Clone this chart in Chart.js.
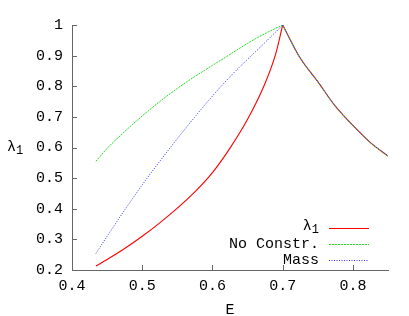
<!DOCTYPE html>
<html>
<head>
<script src="https://cdn.jsdelivr.net/npm/chart.js@4.4.0/dist/chart.umd.min.js"></script>
<style>
	body { margin:0; background:#fff; }
</style>
</head>
<body>
<canvas id="lambdaChart" width="409" height="316"></canvas>

<script>
// values: rising branch (three curves) and falling branch (shared by all)
var energyLeft   = [0.434, 0.45, 0.475, 0.5, 0.525, 0.55, 0.575, 0.6, 0.625, 0.65, 0.675, 0.69, 0.7];
var lambda1Left  = [0.213, 0.234, 0.270, 0.310, 0.354, 0.402, 0.455, 0.518, 0.598, 0.692, 0.810, 0.905, 1.0];
var noConstrLeft = [0.555, 0.597, 0.652, 0.703, 0.750, 0.793, 0.832, 0.868, 0.904, 0.940, 0.972, 0.989, 1.0];
var massLeft     = [0.254, 0.310, 0.396, 0.478, 0.555, 0.629, 0.700, 0.768, 0.831, 0.888, 0.943, 0.977, 1.0];
var energyRight  = [0.7, 0.725, 0.75, 0.775, 0.8, 0.825, 0.85];
var sharedRight  = [1.0, 0.892, 0.815, 0.735, 0.672, 0.616, 0.572];
var seriesLabels = ['λ₁', 'No Constr.', 'Mass'];
var xTicks = [0.4, 0.5, 0.6, 0.7, 0.8];
var yTicks = [0.2, 0.3, 0.4, 0.5, 0.6, 0.7, 0.8, 0.9, 1];

var monoFont = 'Liberation Mono';
var styles = [
	{color:'#ff0000', dash:[], width:1.1, order:3},
	{color:'#22dd22', dash:[2,1], width:1, order:2},
	{color:'#3333ff', dash:[1,1.5], width:1, order:1}
];

function pts(xs, ys){
	return xs.map(function(e, i){ return {x:e, y:ys[i]}; });
}

function branch(idx, xs, ys, key){
	return {
		label:seriesLabels[idx], data:pts(xs, ys), key:key,
		borderColor:styles[idx].color, borderDash:styles[idx].dash, order:styles[idx].order,
		borderWidth:styles[idx].width, pointRadius:0, cubicInterpolationMode:'monotone'
	};
}

// text with a gnuplot-like subscript for '₁'; x is the right edge when alignRight
function drawLabel(ctx, text, x, y, alignRight){
	var main = '15px "' + monoFont + '"', sub = '12px "' + monoFont + '"';
	var parts = text.split('₁');
	ctx.textAlign = 'left';
	ctx.font = main;
	var w0 = ctx.measureText(parts[0]).width;
	var w1 = 0;
	if (parts.length > 1) { ctx.font = sub; w1 = ctx.measureText('1').width; }
	var start = alignRight ? x - w0 - w1 : x;
	ctx.font = main;
	ctx.fillText(parts[0], start, y);
	if (parts.length > 1) {
		ctx.font = sub;
		ctx.fillText('1', start + w0, y + 4);
	}
}

// gnuplot style: ticks inside, axis titles, key in the lower right
var gnuplotBits = {
	id:'gnuplotBits',
	afterDraw: function(chart){
		var ctx = chart.ctx;
		var xs = chart.scales.x, ys = chart.scales.y;
		var area = chart.chartArea;
		ctx.save();
		ctx.strokeStyle = '#666';
		ctx.lineWidth = 1;
		xTicks.forEach(function(v){
			var px = Math.round(xs.getPixelForValue(v)) + 0.5;
			ctx.beginPath(); ctx.moveTo(px, area.bottom); ctx.lineTo(px, area.bottom - 5); ctx.stroke();
		});
		yTicks.forEach(function(v){
			var py = Math.round(ys.getPixelForValue(v)) + 0.5;
			ctx.beginPath(); ctx.moveTo(area.left, py); ctx.lineTo(area.left + 5, py); ctx.stroke();
		});

		ctx.fillStyle = '#000';
		ctx.font = '15px "' + monoFont + '"';
		ctx.textBaseline = 'middle';
		ctx.textAlign = 'center';
		ctx.fillText('E', (area.left + area.right) / 2, 310);
		drawLabel(ctx, 'λ₁', 7, 147, false);

		// key
		var rowY = [228, 244, 260];
		chart.data.datasets.forEach(function(ds, i){
			if (ds.key !== true) return;
			var r = seriesLabels.indexOf(ds.label);
			ctx.fillStyle = '#000';
			drawLabel(ctx, ds.label, 319, r === 0 ? rowY[r] - 2 : rowY[r], true);
			ctx.strokeStyle = ds.borderColor;
			ctx.lineWidth = ds.borderWidth;
			ctx.setLineDash(ds.borderDash || []);
			ctx.beginPath();
			ctx.moveTo(329, rowY[r] + 0.5);
			ctx.lineTo(369, rowY[r] + 0.5);
			ctx.stroke();
			ctx.setLineDash([]);
		});
		ctx.restore();
	}
};

new Chart(document.getElementById('lambdaChart'), {
	type:'line',
	data:{
		datasets:[
			branch(0, energyLeft, lambda1Left, true),
			branch(1, energyLeft, noConstrLeft, true),
			branch(2, energyLeft, massLeft, true),
			branch(0, energyRight, sharedRight, false),
			branch(1, energyRight, sharedRight, false),
			branch(2, energyRight, sharedRight, false)
		]
	},
	options:{
		responsive:false,
		animation:false,
		devicePixelRatio:1,
		layout:{padding:{top:25, right:21, left:0, bottom:0}},
		plugins:{legend:{display:false}, tooltip:{enabled:false}},
		scales:{
			x:{
				type:'linear', min:0.4, max:0.85,
				afterBuildTicks:function(s){ s.ticks = xTicks.map(function(v){ return {value:v}; }); },
				afterFit:function(s){ s.height = 46; },
				grid:{drawOnChartArea:false, drawTicks:false},
				border:{color:'#666', width:1},
				ticks:{padding:7, color:'#000', font:{family:monoFont, size:15}, maxRotation:0,
					callback:function(v){ return String(v); }}
			},
			y:{
				min:0.2, max:1,
				afterBuildTicks:function(s){ s.ticks = yTicks.map(function(v){ return {value:v}; }); },
				afterFit:function(s){ s.width = 72; },
				grid:{drawOnChartArea:false, drawTicks:false},
				border:{color:'#666', width:1},
				ticks:{padding:9, color:'#000', font:{family:monoFont, size:15},
					callback:function(v){ return String(v); }}
			}
		}
	},
	plugins:[gnuplotBits]
});
</script>
</body>
</html>
